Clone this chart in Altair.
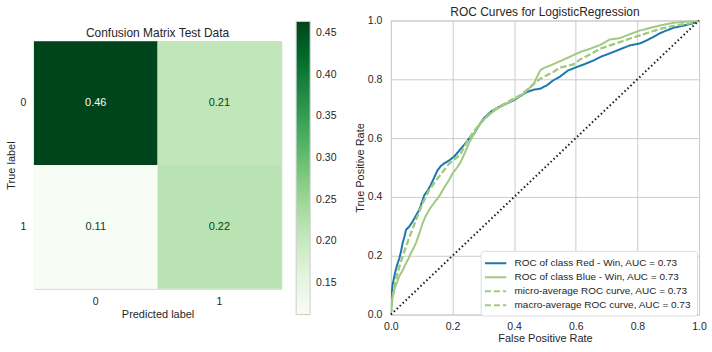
import altair as alt
import pandas as pd

# ---------------- data ----------------
cm_true = ["0", "0", "1", "1"]
cm_pred = ["0", "1", "0", "1"]
cm_vals = [0.4644, 0.2085, 0.1116, 0.2155]
colorbar_ticks = [0.15, 0.20, 0.25, 0.30, 0.35, 0.40, 0.45]
greens = ["#f7fcf5", "#e5f5e0", "#c7e9c0", "#a1d99b", "#74c476",
          "#41ab5d", "#238b45", "#006d2c", "#00441b"]

roc_ticks = [0.0, 0.2, 0.4, 0.6, 0.8, 1.0]
series_names = [
    "ROC of class Red - Win, AUC = 0.73",
    "ROC of class Blue - Win, AUC = 0.73",
    "micro-average ROC curve, AUC = 0.73",
    "macro-average ROC curve, AUC = 0.73",
]
series_colors = ["#1a78ae", "#a1ca80", "#a1ca80", "#a1ca80"]
series_dashes = [[1, 0], [1, 0], [6, 3], [6, 3]]

red_fpr = [0, 0.002, 0.005, 0.011, 0.016, 0.022, 0.027, 0.033, 0.038, 0.044, 0.049, 0.06, 0.07, 0.081,
           0.092, 0.1, 0.108, 0.118, 0.129, 0.14, 0.151, 0.162, 0.173, 0.19, 0.205, 0.22, 0.237, 0.255,
           0.27, 0.287, 0.302, 0.325, 0.345, 0.37, 0.4, 0.42, 0.442, 0.465, 0.485, 0.507, 0.525, 0.55,
           0.575, 0.604, 0.63, 0.66, 0.68, 0.71, 0.744, 0.775, 0.809, 0.83, 0.852, 0.874, 0.895, 0.917,
           0.94, 0.96, 0.98, 1.0]
red_tpr = [0, 0.06, 0.098, 0.13, 0.153, 0.175, 0.19, 0.215, 0.243, 0.265, 0.288, 0.3, 0.316, 0.336,
           0.356, 0.38, 0.405, 0.42, 0.44, 0.465, 0.49, 0.505, 0.514, 0.525, 0.537, 0.555, 0.576, 0.6,
           0.615, 0.645, 0.668, 0.69, 0.703, 0.715, 0.729, 0.743, 0.757, 0.765, 0.768, 0.78, 0.795, 0.81,
           0.83, 0.842, 0.852, 0.865, 0.876, 0.888, 0.902, 0.915, 0.922, 0.932, 0.944, 0.957, 0.966, 0.975,
           0.98, 0.985, 0.99, 1.0]

blue_fpr = [0, 0.003, 0.005, 0.011, 0.016, 0.022, 0.027, 0.038, 0.049, 0.057, 0.065, 0.073, 0.081,
            0.092, 0.103, 0.113, 0.124, 0.14, 0.156, 0.172, 0.189, 0.2, 0.215, 0.227, 0.24, 0.253, 0.27,
            0.281, 0.3, 0.324, 0.35, 0.378, 0.41, 0.431, 0.453, 0.464, 0.475, 0.485, 0.5, 0.518, 0.55,
            0.58, 0.615, 0.647, 0.68, 0.71, 0.744, 0.775, 0.809, 0.84, 0.874, 0.917, 0.96, 1.0]
blue_tpr = [0, 0.03, 0.06, 0.085, 0.1, 0.115, 0.13, 0.15, 0.175, 0.19, 0.209, 0.225, 0.243,
            0.275, 0.311, 0.335, 0.356, 0.38, 0.401, 0.43, 0.458, 0.48, 0.5, 0.52, 0.55, 0.582, 0.615,
            0.638, 0.662, 0.684, 0.703, 0.718, 0.738, 0.751, 0.774, 0.785, 0.81, 0.831, 0.84, 0.847, 0.862,
            0.876, 0.893, 0.904, 0.917, 0.935, 0.94, 0.953, 0.966, 0.974, 0.983, 0.992, 0.996, 1.0]

micro_fpr = [0, 0.003, 0.0075, 0.016, 0.027, 0.038, 0.049, 0.057, 0.065, 0.081, 0.092, 0.103, 0.124,
             0.14, 0.156, 0.172, 0.189, 0.216, 0.227, 0.253, 0.27, 0.291, 0.31, 0.334, 0.356, 0.378, 0.4,
             0.421, 0.453, 0.47, 0.485, 0.505, 0.528, 0.55, 0.593, 0.615, 0.65, 0.68, 0.71, 0.744, 0.775,
             0.809, 0.84, 0.874, 0.905, 0.939, 0.97, 0.99, 1.0]
micro_tpr = [0, 0.045, 0.073, 0.119, 0.164, 0.198, 0.232, 0.255, 0.277, 0.322, 0.35, 0.379, 0.424,
             0.447, 0.469, 0.49, 0.514, 0.535, 0.548, 0.599, 0.625, 0.65, 0.672, 0.695, 0.71, 0.723, 0.735,
             0.746, 0.774, 0.79, 0.802, 0.813, 0.825, 0.84, 0.85, 0.868, 0.886, 0.904, 0.915, 0.927, 0.938,
             0.949, 0.96, 0.972, 0.979, 0.985, 0.99, 0.994, 1.0]

macro_fpr = [0, 0.003, 0.008, 0.016, 0.027, 0.038, 0.049, 0.057, 0.065, 0.081, 0.092, 0.103, 0.124,
             0.14, 0.156, 0.172, 0.189, 0.216, 0.227, 0.253, 0.27, 0.291, 0.31, 0.334, 0.356, 0.378, 0.4,
             0.421, 0.453, 0.47, 0.485, 0.505, 0.528, 0.55, 0.593, 0.615, 0.65, 0.68, 0.71, 0.744, 0.775,
             0.809, 0.84, 0.874, 0.905, 0.939, 0.97, 0.99, 1.0]
macro_tpr = [0, 0.04, 0.07, 0.116, 0.16, 0.196, 0.23, 0.254, 0.276, 0.32, 0.349, 0.378, 0.422,
             0.446, 0.468, 0.49, 0.513, 0.536, 0.549, 0.598, 0.624, 0.65, 0.672, 0.694, 0.71, 0.722, 0.735,
             0.747, 0.773, 0.79, 0.801, 0.813, 0.826, 0.84, 0.851, 0.868, 0.887, 0.904, 0.915, 0.926, 0.938,
             0.95, 0.96, 0.971, 0.979, 0.985, 0.99, 0.994, 1.0]

diag_x = [0.0, 1.0]
diag_y = [0.0, 1.0]

# ---------------- styles ----------------
TXT = "#262626"
GRID = "#cccccc"
FONT = "Liberation Sans"

# ---------------- confusion matrix ----------------
cm_df = pd.DataFrame({"true": cm_true, "pred": cm_pred, "value": cm_vals})
vmin, vmax = min(cm_vals), max(cm_vals)
thr = (vmin + vmax) / 2
stops = [vmin + k * (vmax - vmin) / (len(greens) - 1) for k in range(len(greens))]

x_cm = alt.X("pred:N", title="Predicted label",
             scale=alt.Scale(paddingInner=0, paddingOuter=0),
             axis=alt.Axis(labelAngle=0, ticks=False, domain=False, grid=False,
                           labelPadding=8, titlePadding=1))
y_cm = alt.Y("true:N", title="True label",
             scale=alt.Scale(paddingInner=0, paddingOuter=0),
             axis=alt.Axis(labelAngle=0, ticks=False, domain=False, grid=False,
                           labelPadding=8, titlePadding=4))

# the colour legend is placed relative to the block's origin (the thin strip above the matrix)
cm_rect = alt.Chart(cm_df).mark_rect().encode(
    x=x_cm, y=y_cm,
    color=alt.Color("value:Q",
                    scale=alt.Scale(domain=stops, range=greens, interpolate="rgb"),
                    legend=alt.Legend(orient="none", legendX=263, legendY=1,
                                      padding=0, title=None, direction="vertical",
                                      gradientLength=294, gradientThickness=14,
                                      gradientStrokeColor=GRID, gradientStrokeWidth=1,
                                      values=colorbar_ticks, format=".2f",
                                      labelFontSize=10.5, labelColor=TXT, labelOffset=6,
                                      labelFont=FONT))
)
cm_text = alt.Chart(cm_df).mark_text(fontSize=11, font=FONT).encode(
    x=x_cm, y=y_cm,
    text=alt.Text("value:Q", format=".2f"),
    color=alt.condition(alt.datum.value > thr, alt.value("#f7fcf5"), alt.value("#00441b")),
)
cm_chart = (cm_rect + cm_text).properties(
    width=248, height=248,
    title=alt.TitleParams("Confusion Matrix Test Data", fontSize=12, fontWeight="normal",
                          color=TXT, font=FONT, offset=1, frame="group"),
)

# thin invisible strip above the matrix (layout helper only)
spacer = alt.Chart(pd.DataFrame({"v": [0]})).mark_text(text=" ").properties(
    width=248, height=1, view=alt.ViewBackground(stroke=None)
)
cm_block = alt.vconcat(spacer, cm_chart, spacing=0)

# ---------------- ROC ----------------
rows = []
for name, fx, fy in zip(series_names, [red_fpr, blue_fpr, micro_fpr, macro_fpr],
                        [red_tpr, blue_tpr, micro_tpr, macro_tpr]):
    for i, (a, b) in enumerate(zip(fx, fy)):
        rows.append({"series": name, "fpr": a, "tpr": b, "i": i})
roc_df = pd.DataFrame(rows)
diag_df = pd.DataFrame({"fpr": diag_x, "tpr": diag_y})

roc_legend = alt.Legend(orient="none", legendX=90, legendY=231, title=None,
                        fillColor="white", strokeColor="#dddddd", cornerRadius=3,
                        padding=5, symbolType="M-1.75,0H1.75", symbolSize=150,
                        symbolStrokeWidth=2, labelFontSize=10, labelColor=TXT,
                        labelFont=FONT, labelLimit=300, rowPadding=1, labelOffset=11.5,
                        symbolOffset=2.5)

x_roc = alt.X("fpr:Q", scale=alt.Scale(domain=[0, 1], nice=False),
              axis=alt.Axis(values=roc_ticks, format=".1f", title="False Positive Rate",
                            ticks=False, domain=False, gridColor=GRID, labelFlush=False,
                            labelPadding=6.5, titlePadding=1))
y_roc = alt.Y("tpr:Q", scale=alt.Scale(domain=[0, 1], nice=False),
              axis=alt.Axis(values=roc_ticks, format=".1f", title="True Positive Rate",
                            ticks=False, domain=False, gridColor=GRID, labelFlush=False,
                            labelPadding=9, titlePadding=2))

roc_lines = alt.Chart(roc_df).mark_line(strokeWidth=2, clip=True).encode(
    x=x_roc, y=y_roc,
    color=alt.Color("series:N", scale=alt.Scale(domain=series_names, range=series_colors),
                    legend=roc_legend),
    strokeDash=alt.StrokeDash("series:N", scale=alt.Scale(domain=series_names, range=series_dashes),
                              legend=roc_legend),
    order="i:Q",
)
roc_diag = alt.Chart(diag_df).mark_line(color="#1a1a1a", strokeWidth=2,
                                        strokeDash=[1.5, 2.6]).encode(x=x_roc, y=y_roc)

roc_chart = (roc_lines + roc_diag).properties(
    width=309, height=295,
    title=alt.TitleParams("ROC Curves for LogisticRegression", fontSize=12, fontWeight="normal",
                          color=TXT, font=FONT, offset=-4),
)

chart = alt.hconcat(cm_block, roc_chart, spacing=16).resolve_scale(
    color="independent", strokeDash="independent"
).resolve_legend(
    color="independent", strokeDash="independent"
).properties(
    padding={"left": 4, "top": 5, "right": 5, "bottom": 4}
).configure_view(stroke=GRID).configure_axis(
    labelFont=FONT, titleFont=FONT, labelFontSize=10.5, titleFontSize=11,
    labelColor=TXT, titleColor=TXT, titleFontWeight="normal",
)

chart.save("out.html", embed_options={"renderer": "svg", "actions": False})
